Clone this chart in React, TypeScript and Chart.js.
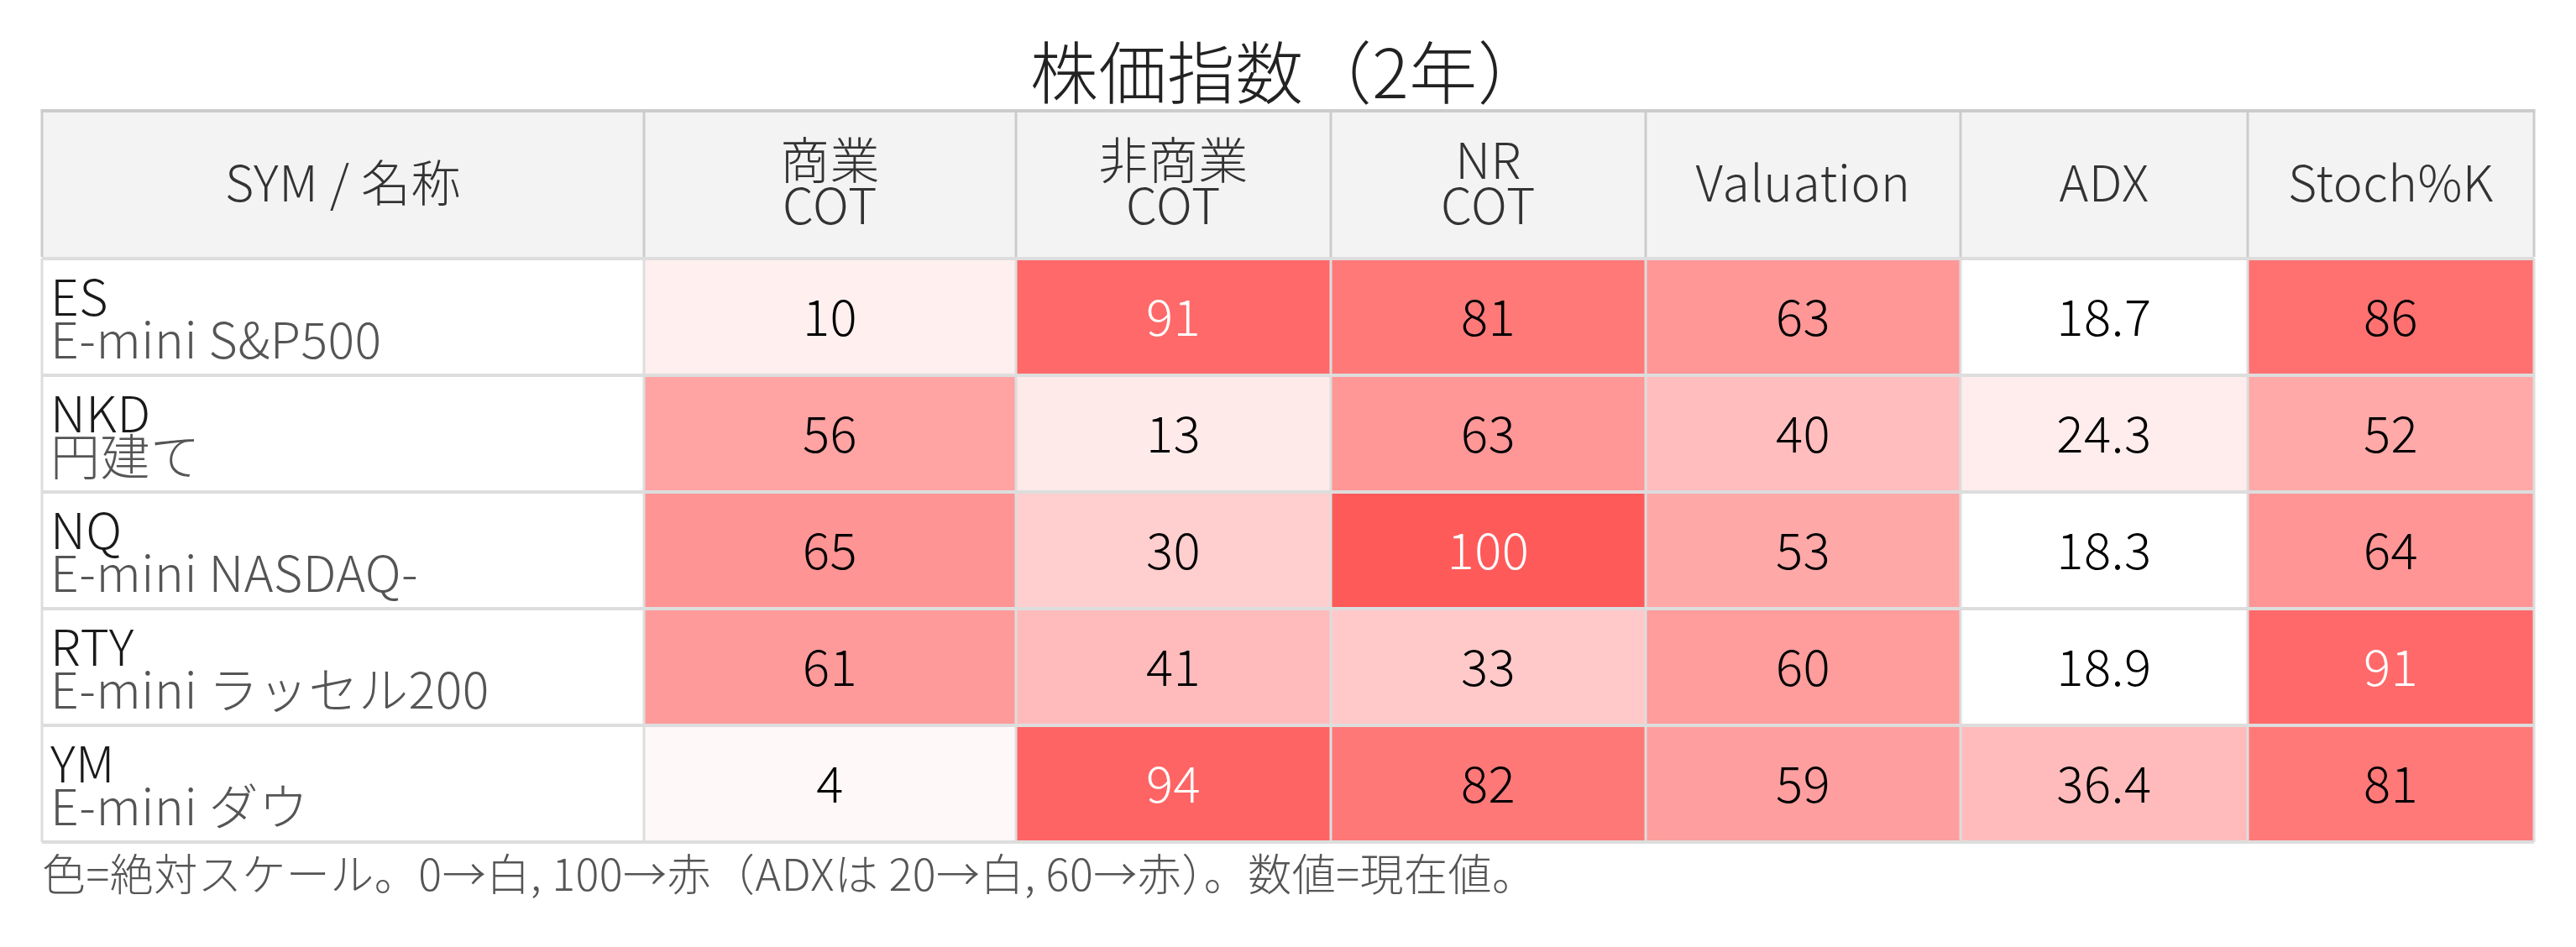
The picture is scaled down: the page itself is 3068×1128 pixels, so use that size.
import React, { useEffect, useRef } from "react";
import { Chart, registerables } from "chart.js";

Chart.register(...registerables);

const titleText = "株価指数（2年）";
const footnoteText = "色=絶対スケール。0→白, 100→赤（ADXは 20→白, 60→赤）。数値=現在値。";
const nameHeader = "SYM / 名称";
const symbols = ["ES", "NKD", "NQ", "RTY", "YM"];
const names = ["E-mini S&P500", "円建て", "E-mini NASDAQ-", "E-mini ラッセル200", "E-mini ダウ"];
const metricHeaders = [["商業", "COT"], ["非商業", "COT"], ["NR", "COT"], ["Valuation"], ["ADX"], ["Stoch%K"]];
const commercialCOT = [10, 56, 65, 61, 4];
const nonCommercialCOT = [91, 13, 30, 41, 94];
const nrCOT = [81, 63, 100, 33, 82];
const valuation = [63, 40, 53, 60, 59];
const adx = [18.7, 24.3, 18.3, 18.9, 36.4];
const stochK = [86, 52, 64, 91, 81];
const metricDecimals = [0, 0, 0, 0, 1, 0];
const colorLow = [0, 0, 0, 0, 20, 0];
const colorHigh = [100, 100, 100, 100, 60, 100];
const columnWidths = [717, 443, 375, 375, 375, 342, 341];

const metrics = [commercialCOT, nonCommercialCOT, nrCOT, valuation, adx, stochK];
const FONT = "'Noto Sans CJK JP', 'Noto Sans', sans-serif";
const WEIGHT = 300;
const HEADER_H = 176;

const edges: number[] = [0];
columnWidths.forEach((w) => edges.push(edges[edges.length - 1] + w));

function cellColor(v: number, j: number) {
  let t = (v - colorLow[j]) / (colorHigh[j] - colorLow[j]);
  t = Math.max(0, Math.min(1, t));
  const gb = Math.round(255 - t * 165);
  return `rgb(255,${gb},${gb})`;
}
function textColor(v: number, j: number) {
  const t = (v - colorLow[j]) / (colorHigh[j] - colorLow[j]);
  return t >= 0.88 ? "#ffffff" : "#000000";
}

const spacingPlugin = {
  id: "letterSpacing",
  beforeDraw(chart: any) {
    chart.ctx.letterSpacing = "0.5px";
  },
};

const tablePlugin = {
  id: "tableText",
  afterDatasetsDraw(chart: any) {
    const ctx = chart.ctx;
    const area = chart.chartArea;
    const xs = chart.scales.x;
    const top = area.top - HEADER_H;
    ctx.save();
    ctx.letterSpacing = "0.5px";
    ctx.fillStyle = "#f3f3f3";
    ctx.fillRect(area.left, top, area.right - area.left, HEADER_H);
    ctx.strokeStyle = "#dddddd";
    ctx.lineWidth = 4;
    const meta0 = chart.getDatasetMeta(0);
    meta0.data.forEach((el: any) => {
      const y0 = el.y - el.height / 2;
      const y1 = el.y + el.height / 2;
      ctx.beginPath();
      ctx.moveTo(area.left, y0);
      ctx.lineTo(area.right, y0);
      ctx.moveTo(area.left, y1);
      ctx.lineTo(area.right, y1);
      ctx.stroke();
    });
    ctx.lineWidth = 3;
    edges.forEach((e) => {
      const px = xs.getPixelForValue(e);
      ctx.beginPath();
      ctx.moveTo(px, area.top);
      ctx.lineTo(px, area.bottom);
      ctx.stroke();
    });
    ctx.strokeStyle = "#cccccc";
    ctx.lineWidth = 3;
    edges.forEach((e) => {
      const px = xs.getPixelForValue(e);
      ctx.beginPath();
      ctx.moveTo(px, top);
      ctx.lineTo(px, area.top - 2);
      ctx.stroke();
    });
    ctx.lineWidth = 4;
    ctx.beginPath();
    ctx.moveTo(area.left - 1.5, top);
    ctx.lineTo(area.right + 1.5, top);
    ctx.stroke();

    ctx.textAlign = "center";
    ctx.textBaseline = "middle";
    ctx.fillStyle = "#333333";
    ctx.font = `${WEIGHT} 59px ${FONT}`;
    const hc = top + HEADER_H / 2 - 2;
    const heads = [[nameHeader], ...metricHeaders];
    heads.forEach((lines, j) => {
      const cx = (xs.getPixelForValue(edges[j]) + xs.getPixelForValue(edges[j + 1])) / 2;
      if (lines.length === 1) {
        ctx.fillText(lines[0], cx, hc);
      } else {
        ctx.fillText(lines[0], cx, hc - 27);
        ctx.fillText(lines[1], cx, hc + 27);
      }
    });

    ctx.textAlign = "left";
    meta0.data.forEach((el: any, i: number) => {
      const x = area.left + 10;
      ctx.fillStyle = "#1a1a1a";
      ctx.fillText(symbols[i], x, el.y - 24);
      ctx.fillStyle = "#555555";
      ctx.fillText(names[i], x, el.y + 27);
    });

    ctx.textAlign = "center";
    ctx.font = `${WEIGHT} 60px ${FONT}`;
    metrics.forEach((arr, j) => {
      const meta = chart.getDatasetMeta(j + 1);
      meta.data.forEach((el: any, i: number) => {
        const v = arr[i];
        ctx.fillStyle = textColor(v, j);
        ctx.fillText(v.toFixed(metricDecimals[j]), (el.x + el.base) / 2, el.y);
      });
    });
    ctx.restore();
  },
};

export default function App() {
  const ref = useRef<HTMLCanvasElement | null>(null);
  useEffect(() => {
    if (!ref.current) return;
    const datasets: any[] = [
      {
        label: nameHeader,
        data: symbols.map((s) => ({ x: [edges[0], edges[1]], y: s })),
        backgroundColor: "#ffffff",
      },
      ...metrics.map((arr, j) => ({
        label: metricHeaders[j].join(" "),
        data: symbols.map((s) => ({ x: [edges[j + 1], edges[j + 2]], y: s })),
        backgroundColor: arr.map((v) => cellColor(v, j)),
      })),
    ].map((d) => ({
      ...d,
      grouped: false,
      barPercentage: 1,
      categoryPercentage: 1,
      borderWidth: 0,
      borderSkipped: false,
    }));
    const chart = new Chart(ref.current, {
      type: "bar",
      data: { labels: symbols, datasets },
      options: {
        indexAxis: "y",
        animation: false,
        responsive: false,
        devicePixelRatio: 1,
        layout: { padding: { left: 50, right: 50, top: 0, bottom: 0 } },
        scales: {
          x: { type: "linear", min: 0, max: edges[edges.length - 1], display: false },
          y: { type: "category", display: false, offset: true },
        },
        plugins: {
          legend: { display: false },
          tooltip: { enabled: false },
          title: {
            display: true,
            text: titleText,
            color: "#222222",
            font: { family: FONT, size: 81, weight: WEIGHT, lineHeight: 1 },
            padding: { top: 46, bottom: 181 },
          },
          subtitle: {
            display: true,
            text: footnoteText,
            position: "bottom",
            align: "start",
            color: "#555555",
            font: { family: FONT, size: 52, weight: WEIGHT, lineHeight: 1 },
            padding: { top: 12, bottom: 61 },
          },
        },
      } as any,
      plugins: [spacingPlugin, tablePlugin],
    });
    return () => chart.destroy();
  }, []);
  return (
    <div style={{ position: "fixed", left: 0, top: 0, width: 3068, height: 1128, background: "#fff" }}>
      <canvas ref={ref} width={3068} height={1128} style={{ display: "block" }} />
    </div>
  );
}
